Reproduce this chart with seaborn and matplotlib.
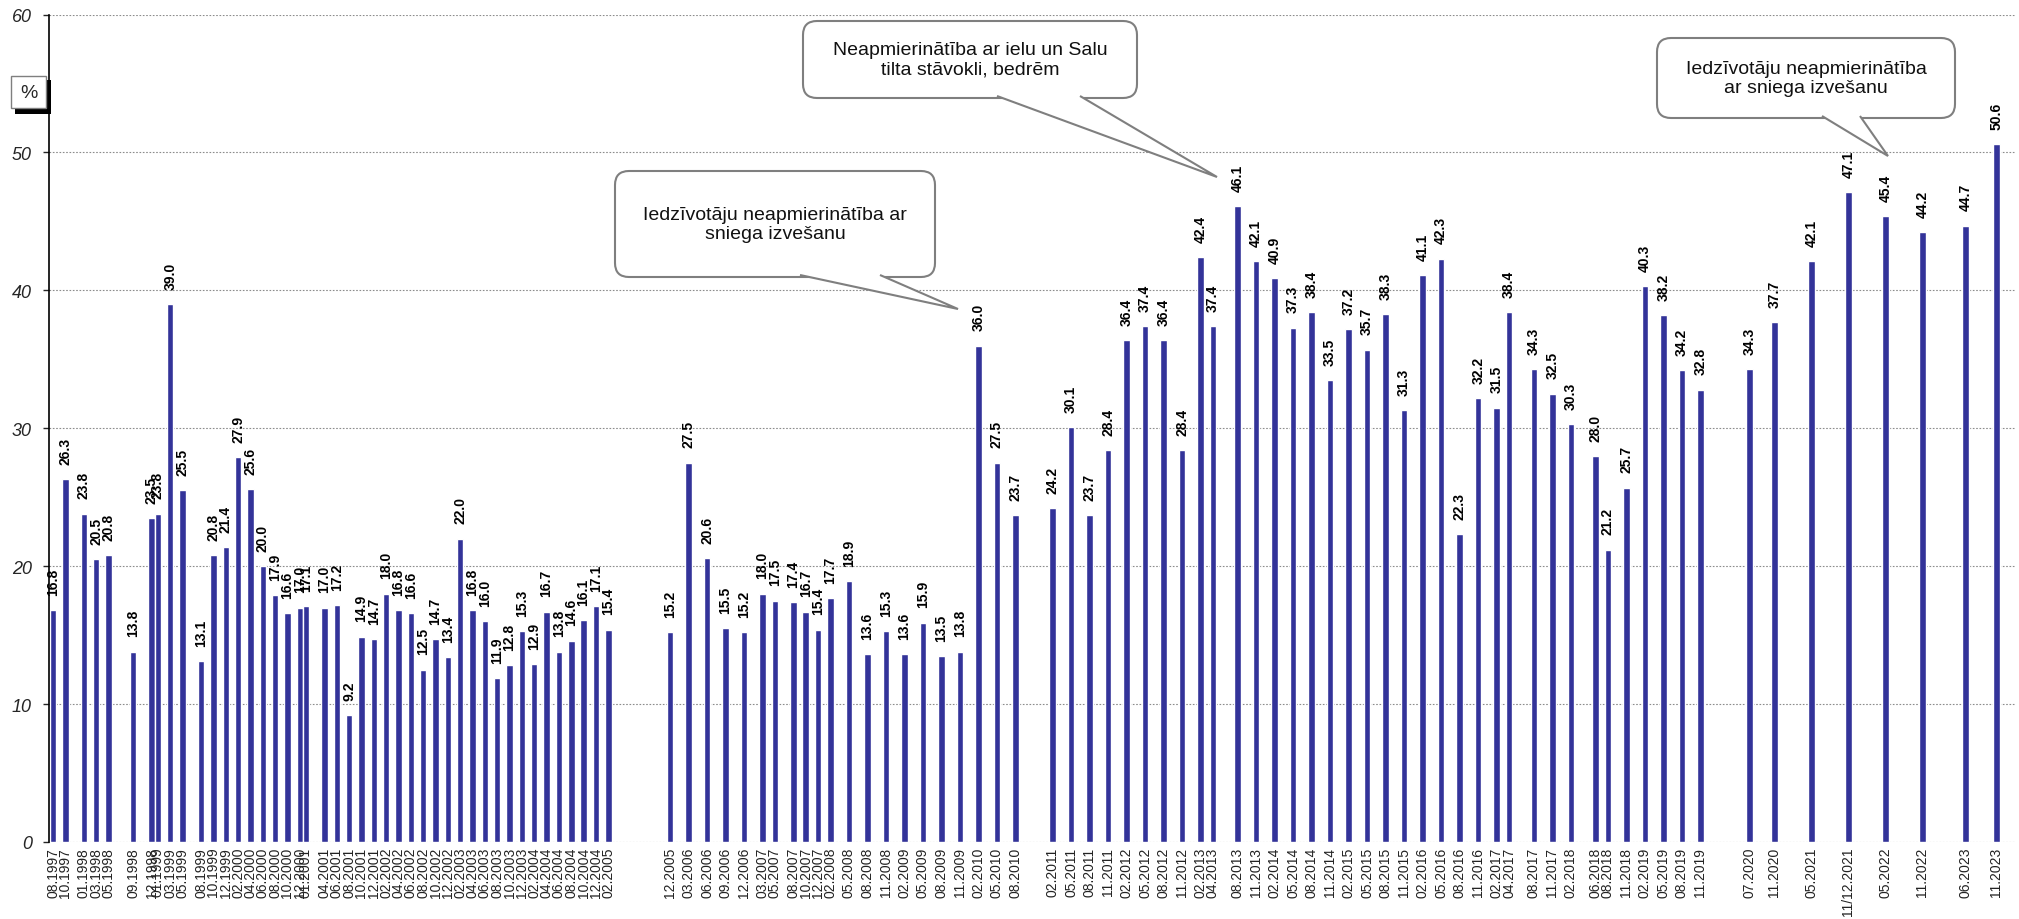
import numpy as np
import pandas as pd
import seaborn as sns
import matplotlib
matplotlib.use("Agg")
import matplotlib.pyplot as plt
from matplotlib.patches import FancyBboxPatch, Polygon, Rectangle
from matplotlib.transforms import Affine2D

# survey dates (MM.YYYY) and share of dissatisfied respondents, %
dates_1 = ["08.1997", "10.1997", "01.1998", "03.1998", "05.1998", "09.1998", "12.1998", "01.1999",
           "03.1999", "05.1999", "08.1999", "10.1999", "12.1999", "02.2000", "04.2000", "06.2000",
           "08.2000", "10.2000", "12.2000", "01.2001", "04.2001", "06.2001", "08.2001", "10.2001",
           "12.2001", "02.2002", "04.2002", "06.2002", "08.2002", "10.2002", "12.2002", "02.2003",
           "04.2003", "06.2003", "08.2003", "10.2003", "12.2003", "02.2004", "04.2004", "06.2004",
           "08.2004", "10.2004", "12.2004", "02.2005"]
values_1 = [16.8, 26.3, 23.8, 20.5, 20.8, 13.8, 23.5, 23.8,
            39.0, 25.5, 13.1, 20.8, 21.4, 27.9, 25.6, 20.0,
            17.9, 16.6, 17.0, 17.1, 17.0, 17.2, 9.2, 14.9,
            14.7, 18.0, 16.8, 16.6, 12.5, 14.7, 13.4, 22.0,
            16.8, 16.0, 11.9, 12.8, 15.3, 12.9, 16.7, 13.8,
            14.6, 16.1, 17.1, 15.4]

dates_2 = ["12.2005", "03.2006", "06.2006", "09.2006", "12.2006", "03.2007", "05.2007", "08.2007",
           "10.2007", "12.2007", "02.2008", "05.2008", "08.2008", "11.2008", "02.2009", "05.2009",
           "08.2009", "11.2009", "02.2010", "05.2010", "08.2010"]
values_2 = [15.2, 27.5, 20.6, 15.5, 15.2, 18.0, 17.5, 17.4,
            16.7, 15.4, 17.7, 18.9, 13.6, 15.3, 13.6, 15.9,
            13.5, 13.8, 36.0, 27.5, 23.7]

dates_3 = ["02.2011", "05.2011", "08.2011", "11.2011", "02.2012", "05.2012", "08.2012", "11.2012",
           "02.2013", "04.2013", "08.2013", "11.2013", "02.2014", "05.2014", "08.2014", "11.2014",
           "02.2015", "05.2015", "08.2015", "11.2015", "02.2016", "05.2016", "08.2016", "11.2016",
           "02.2017", "04.2017", "08.2017", "11.2017", "02.2018", "06.2018", "08.2018", "11.2018",
           "02.2019", "05.2019", "08.2019", "11.2019", "07.2020", "11.2020", "05.2021", "11/12.2021",
           "05.2022", "11.2022", "06.2023", "11.2023"]
values_3 = [24.2, 30.1, 23.7, 28.4, 36.4, 37.4, 36.4, 28.4,
            42.4, 37.4, 46.1, 42.1, 40.9, 37.3, 38.4, 33.5,
            37.2, 35.7, 38.3, 31.3, 41.1, 42.3, 22.3, 32.2,
            31.5, 38.4, 34.3, 32.5, 30.3, 28.0, 21.2, 25.7,
            40.3, 38.2, 34.2, 32.8, 34.3, 37.7, 42.1, 47.1,
            45.4, 44.2, 44.7, 50.6]

dates = dates_1 + dates_2 + dates_3
values = values_1 + values_2 + values_3


def month_index(label):
    month, year = label.split(".")
    month = int(month.split("/")[0])
    return (int(year) - 1997) * 12 + month - 1


df = pd.DataFrame({"date": dates, "value": values})
df["m"] = [month_index(d) for d in dates]

sns.set_style("white")
plt.rcParams["font.family"] = ["Liberation Sans", "DejaVu Sans"]

W, H = 2019, 920
fig = plt.figure(figsize=(W / 100, H / 100), dpi=100)
ax = fig.add_axes([49 / W, 1 - 843 / H, (2015 - 49) / W, (843 - 15.5) / H])

sns.barplot(data=df, x="m", y="value", native_scale=True, width=1.05,
            color="#333399", saturation=1, errorbar=None, ax=ax, zorder=3)

for m, v in zip(df["m"], df["value"]):
    ax.annotate(f"{v:.1f}", xy=(m, v), xytext=(0, 11), textcoords="offset points",
                rotation=90, ha="center", va="bottom", fontsize=10, fontweight="bold",
                color="black", zorder=4)

ax.set_xlim(6.35, 325.0)
ax.set_ylim(0, 60)
ax.set_yticks(range(0, 61, 10))
ax.set_yticklabels([str(t) for t in range(0, 61, 10)], fontsize=13, style="italic")
ax.set_xticks(df["m"])
ax.set_xticklabels(df["date"], rotation=90, fontsize=10, color="#222222")
ax.tick_params(axis="x", length=0, pad=3.5)
ax.tick_params(axis="y", length=4.3, width=1, direction="out", pad=8, left=True)
ax.set_xlabel("")
ax.set_ylabel("")

ax.yaxis.grid(True, linestyle=(0, (1.5, 1.5)), color="#8c8c8c", linewidth=0.8, zorder=0)
ax.set_axisbelow(True)
for s in ["top", "right", "bottom"]:
    ax.spines[s].set_visible(False)
ax.spines["left"].set_color("black")
ax.spines["left"].set_linewidth(1.2)
ax.spines["left"].set_zorder(5)

# pixel coordinates measured from the top-left corner of the image
px = Affine2D().scale(1 / 100, -1 / 100).translate(0, H / 100) + fig.dpi_scale_trans


def callout(box, base, tip, text):
    x0, y0, x1, y1 = box
    ax.add_patch(FancyBboxPatch((x0, y0), x1 - x0, y1 - y0,
                                boxstyle="round,pad=0,rounding_size=14",
                                transform=px, facecolor="white", edgecolor="#7f7f7f",
                                linewidth=1.5, clip_on=False, zorder=6))
    ax.add_patch(Polygon([(base[0], y1 - 2), tip, (base[1], y1 - 2)], closed=False,
                         transform=px, facecolor="white", edgecolor="#7f7f7f",
                         linewidth=1.5, clip_on=False, zorder=7))
    ax.text((x0 + x1) / 2, (y0 + y1) / 2, text, transform=px, ha="center", va="center",
            fontsize=14, color="#111111", linespacing=1.2, zorder=8)


callout((615, 172, 935, 278), (800, 880), (958, 310),
        "Iedzīvotāju neapmierinātība ar\nsniega izvešanu")
callout((803, 22, 1137, 99), (997, 1080), (1217, 178),
        "Neapmierinātība ar ielu un Salu\ntilta stāvokli, bedrēm")
callout((1657, 39, 1955, 119), (1822, 1860), (1888, 157),
        "Iedzīvotāju neapmierinātība\nar sniega izvešanu")

# "%" unit box with shadow
ax.add_patch(Rectangle((15, 81), 36, 34, transform=px, facecolor="black",
                       edgecolor="none", clip_on=False, zorder=6))
ax.add_patch(Rectangle((11, 77), 35, 32, transform=px, facecolor="white",
                       edgecolor="#7f7f7f", linewidth=1, clip_on=False, zorder=7))
ax.text(28.5, 93, "%", transform=px, ha="center", va="center", fontsize=14, zorder=8)

fig.savefig("out.png", dpi=100)
